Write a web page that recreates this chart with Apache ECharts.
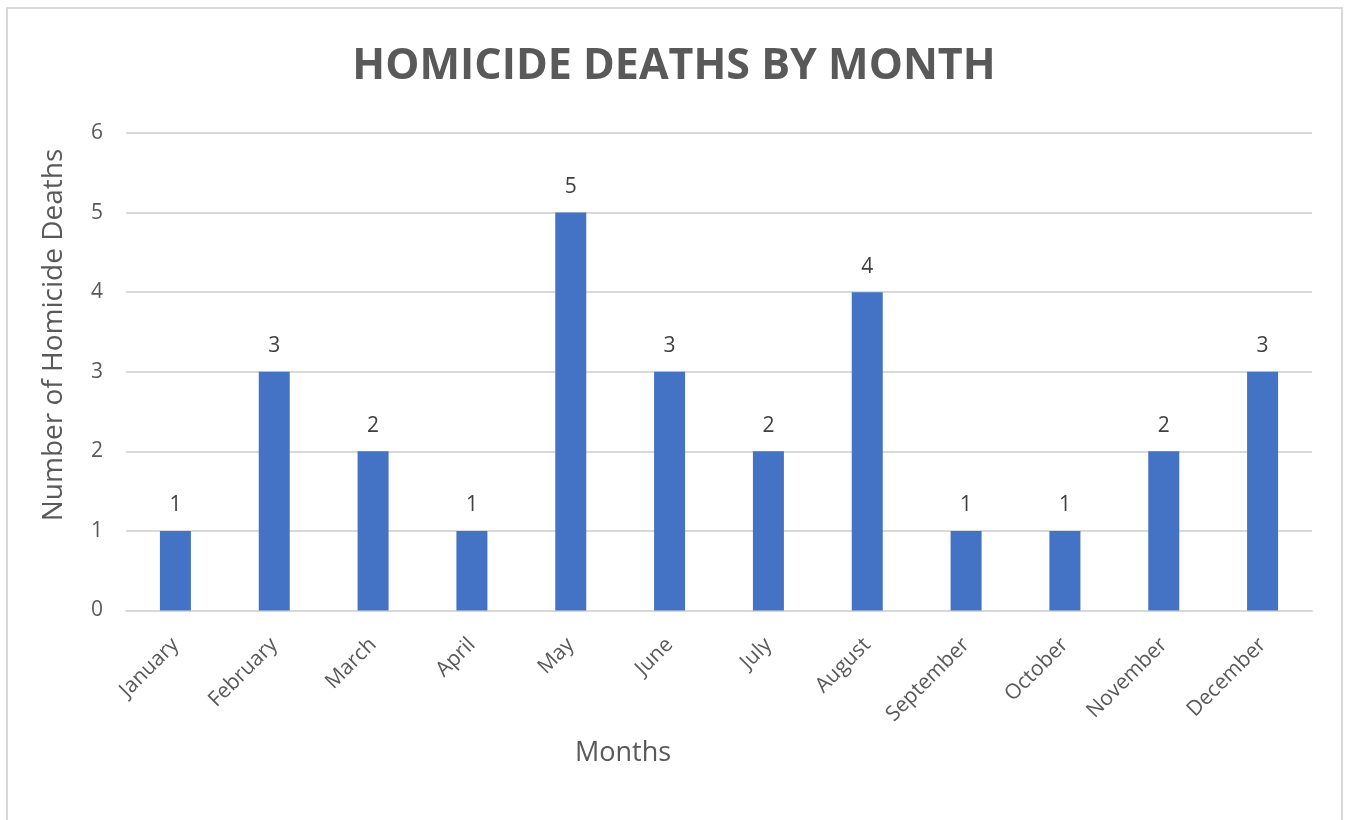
<html>
<head>
<meta charset="UTF-8">
<title>Homicide deaths by month</title>
<script src="https://cdn.jsdelivr.net/npm/echarts@6/dist/echarts.min.js"></script>
<style>
  html, body { margin: 0; padding: 0; background: #fff; }
  #main { width: 1348px; height: 820px; }
</style>
</head>
<body>
<div id="main"></div>
<script>
var months = ['January', 'February', 'March', 'April', 'May', 'June', 'July',
              'August', 'September', 'October', 'November', 'December'];
var deaths = [1, 3, 2, 1, 5, 3, 2, 4, 1, 1, 2, 3];
var yTicks = [0, 1, 2, 3, 4, 5, 6];

var font = "'Open Sans', 'Noto Sans', sans-serif";
var grey = '#595959';

var chart = echarts.init(document.getElementById('main'));
chart.setOption({
  animation: false,
  title: {
    text: 'HOMICIDE DEATHS BY MONTH',
    left: 'center',
    top: 40,
    textStyle: { fontFamily: font, fontSize: 43, fontWeight: 'bold', color: grey }
  },
  graphic: [
    {
      type: 'rect',
      shape: { x: 7, y: 8, width: 1335, height: 840 },
      style: { fill: 'none', stroke: '#d9d9d9', lineWidth: 2 },
      silent: true
    },
    {
      type: 'text',
      x: 54, y: 335,
      rotation: Math.PI / 2,
      style: {
        text: 'Number of Homicide Deaths',
        fontFamily: font, fontSize: 28, fill: grey,
        align: 'center', verticalAlign: 'middle'
      }
    },
    {
      type: 'text',
      x: 623, y: 753,
      style: {
        text: 'Months',
        fontFamily: font, fontSize: 27, fill: grey,
        align: 'center', verticalAlign: 'middle'
      }
    }
  ],
  grid: { left: 126, right: 36, top: 133, bottom: 209.5 },
  xAxis: {
    type: 'category',
    data: months,
    axisTick: { show: false },
    axisLine: { lineStyle: { color: '#d9d9d9', width: 2 } },
    axisLabel: {
      rotate: 45, margin: 31, interval: 0,
      fontFamily: font, fontSize: 21, color: grey
    }
  },
  yAxis: {
    type: 'value',
    min: yTicks[0],
    max: yTicks[yTicks.length - 1],
    interval: 1,
    axisLine: { show: false },
    axisTick: { show: false },
    splitLine: { lineStyle: { color: '#d9d9d9', width: 2 } },
    axisLabel: { margin: 23, fontFamily: font, fontSize: 21, color: grey }
  },
  series: [{
    type: 'bar',
    data: deaths,
    barWidth: 31,
    itemStyle: { color: '#4472C4' },
    label: {
      show: true, position: 'top', distance: 15,
      fontFamily: font, fontSize: 21, color: '#404040'
    }
  }]
});
</script>
</body>
</html>
